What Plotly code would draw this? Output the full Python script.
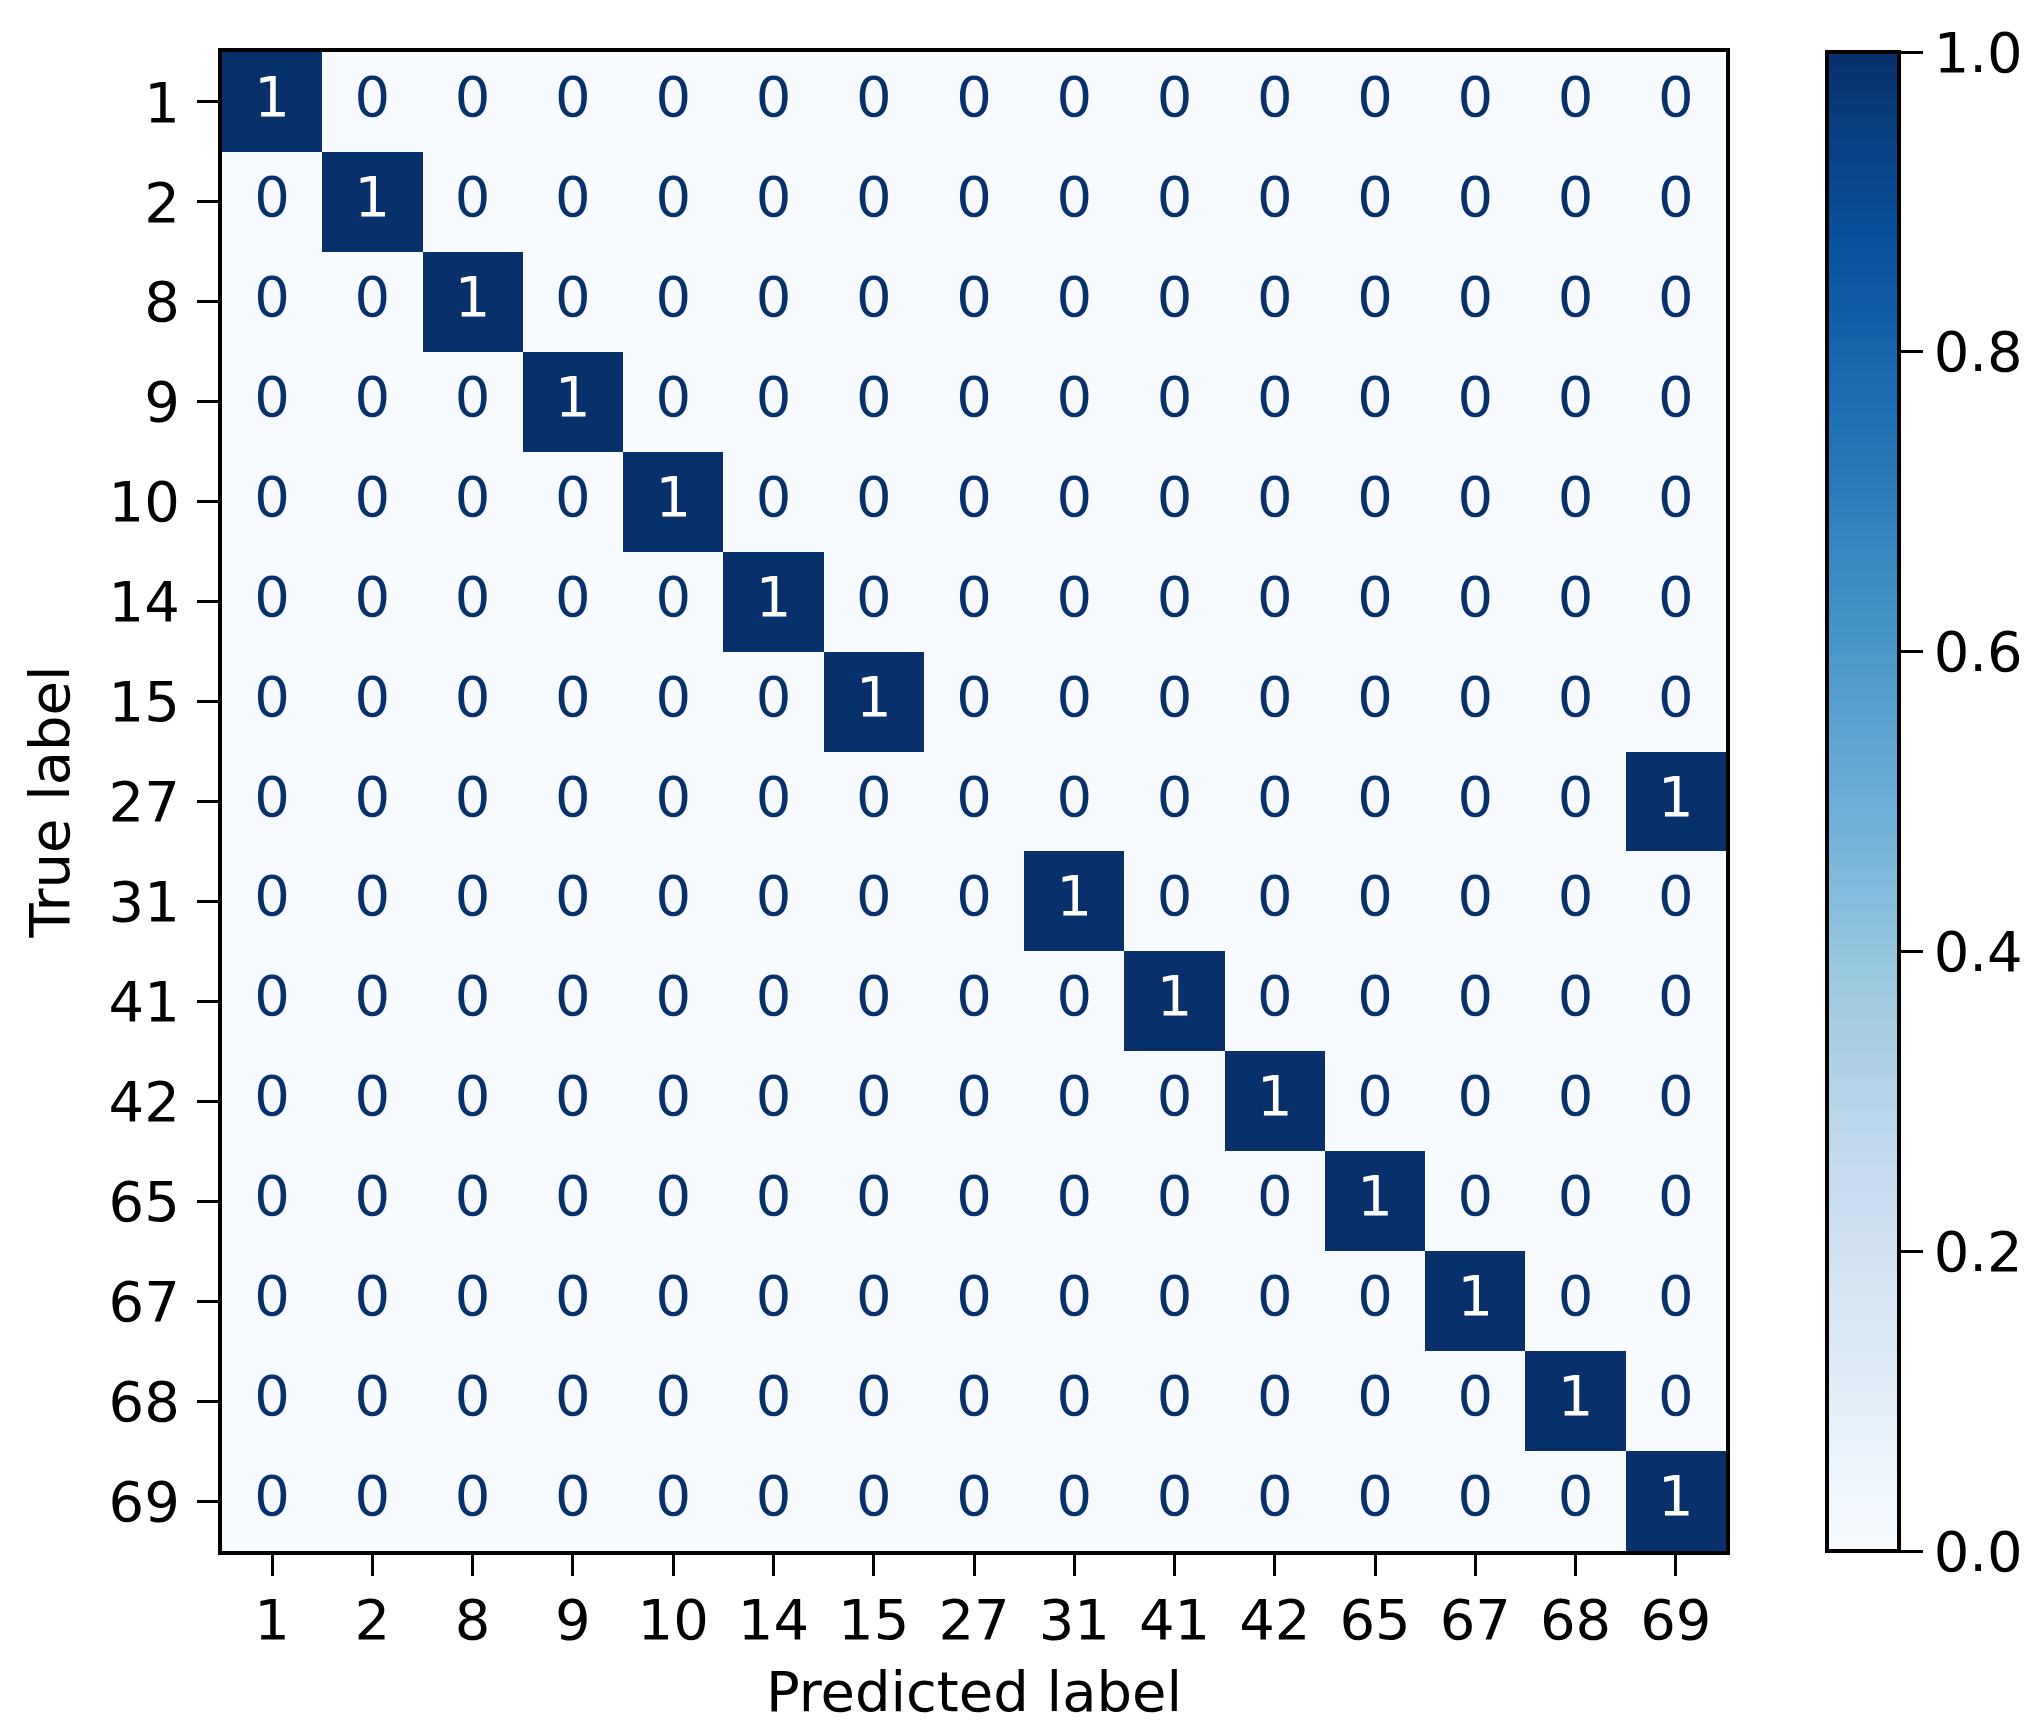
import plotly.graph_objects as go
import plotly.express as px

labels = ['1', '2', '8', '9', '10', '14', '15', '27', '31', '41', '42', '65', '67', '68', '69']

# rows = true label, columns = predicted label (where the single 1 of each row falls)
predicted_for_true = ['1', '2', '8', '9', '10', '14', '15', '69', '31', '41', '42', '65', '67', '68', '69']

counts = [[1 if p == pred else 0 for p in labels] for pred in predicted_for_true]

cb_ticks = [0.0, 0.2, 0.4, 0.6, 0.8, 1.0]

blues = px.colors.sequential.Blues
dark = '#08306b'
font_family = 'DejaVu Sans'
fs = 56

fig = go.Figure()

fig.add_trace(go.Heatmap(
    z=counts,
    x=labels,
    y=labels,
    colorscale=blues,
    zmin=0,
    zmax=1,
    showscale=True,
    colorbar=dict(
        x=1.0669,
        xanchor='left',
        xref='paper',
        xpad=0,
        ypad=0,
        y=0.5,
        yanchor='middle',
        len=1.0,
        lenmode='fraction',
        thickness=72,
        thicknessmode='pixels',
        outlinewidth=4,
        outlinecolor='black',
        tickvals=cb_ticks,
        ticktext=[f'{t:.1f}' for t in cb_ticks],
        ticks='outside',
        ticklen=22,
        tickwidth=3,
        tickcolor='black',
        tickfont=dict(family=font_family, size=fs, color='black'),
    ),
    hoverinfo='skip',
))

# cell annotations: white on dark cells, dark blue on light cells
xs_hi, ys_hi, xs_lo, ys_lo, t_hi, t_lo = [], [], [], [], [], []
for i, row in enumerate(counts):
    for j, v in enumerate(row):
        if v >= 0.5:
            xs_hi.append(labels[j]); ys_hi.append(labels[i]); t_hi.append(str(v))
        else:
            xs_lo.append(labels[j]); ys_lo.append(labels[i]); t_lo.append(str(v))

fig.add_trace(go.Scatter(
    x=xs_lo, y=ys_lo, text=t_lo, mode='text',
    textfont=dict(family=font_family, size=fs, color=dark),
    showlegend=False, hoverinfo='skip',
))
fig.add_trace(go.Scatter(
    x=xs_hi, y=ys_hi, text=t_hi, mode='text',
    textfont=dict(family=font_family, size=fs, color='white'),
    showlegend=False, hoverinfo='skip',
))

axis_common = dict(
    type='category',
    showgrid=False,
    zeroline=False,
    showline=True,
    linewidth=4,
    linecolor='black',
    mirror=True,
    ticks='outside',
    ticklen=21,
    tickwidth=3,
    tickcolor='black',
    tickfont=dict(family=font_family, size=fs, color='black'),
    automargin=False,
    categoryorder='array',
    categoryarray=labels,
)

fig.update_layout(
    width=2042,
    height=1736,
    margin=dict(l=214, r=324, t=44, b=193, autoexpand=False),
    plot_bgcolor='white',
    paper_bgcolor='white',
    font=dict(family=font_family, size=fs, color='black'),
    xaxis=dict(
        **axis_common,
        range=[-0.5, 14.5],
        ticklabelstandoff=-4,
        title=dict(text='Predicted label', font=dict(family=font_family, size=fs), standoff=22),
    ),
    yaxis=dict(
        **axis_common,
        range=[14.5, -0.5],
        ticklabelstandoff=6,
        title=dict(text='True label', font=dict(family=font_family, size=fs), standoff=22),
    ),
)

fig.write_html('out.html')
